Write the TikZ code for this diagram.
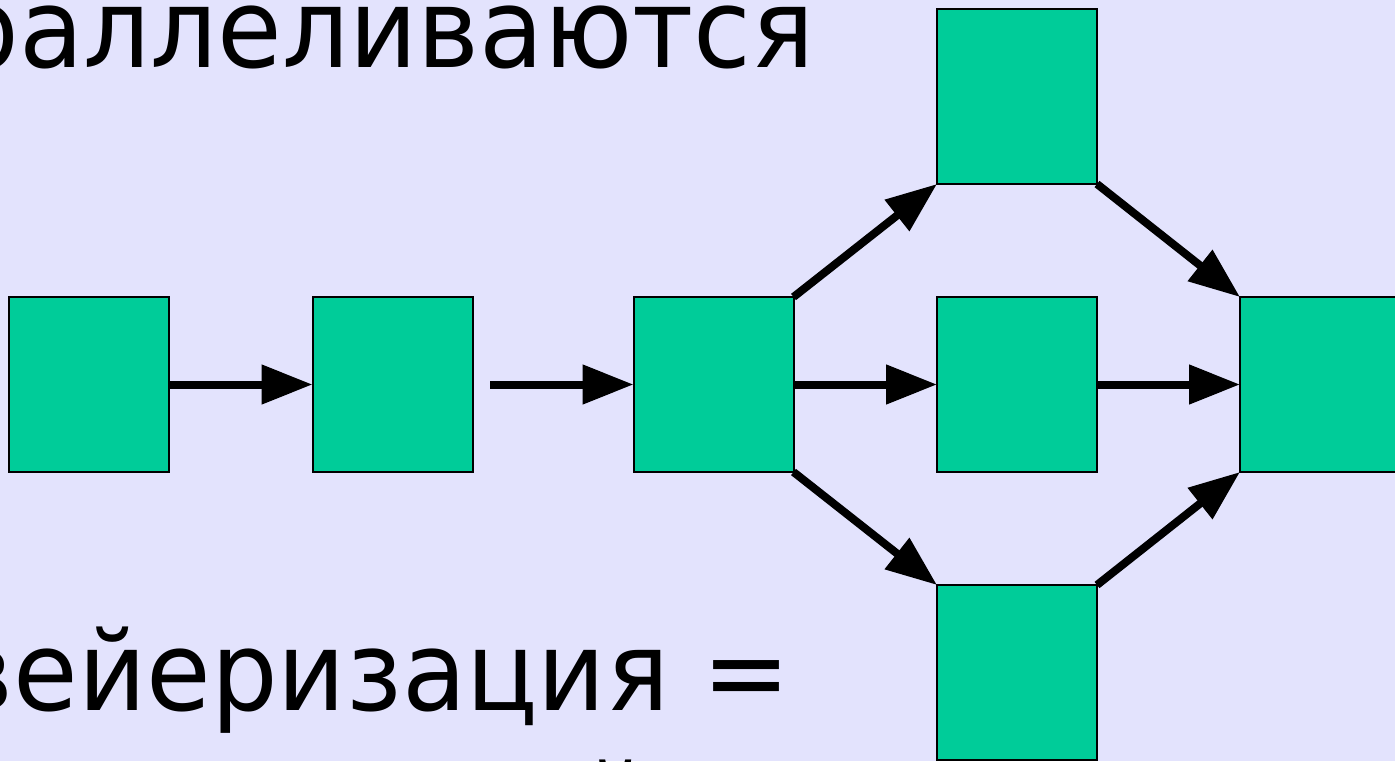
\documentclass[tikz,border=0pt]{standalone}
\usepackage{fontspec}
\setmainfont{DejaVu Sans}[FakeStretch=0.955]
\usetikzlibrary{arrows.meta}
\definecolor{bg}{HTML}{E3E3FD}
\definecolor{boxfill}{HTML}{00CC99}
\tikzset{
  blk/.style={draw=black, line width=2pt, fill=boxfill, minimum width=160pt, minimum height=175pt, inner sep=0pt, outer sep=0pt},
  flow/.style={line width=8pt, -{Triangle[length=51pt,width=38pt]}},
  bigtext/.style={inner sep=0pt, font=\fontsize{110}{132}\selectfont}
}
\begin{document}
\begin{tikzpicture}[x=1pt,y=-1pt]
\useasboundingbox (0,0) rectangle (1395,761);
\clip (0,0) rectangle (1395,761);
\fill[bg] (0,0) rectangle (1395,761);
\node[bigtext, anchor=base east] (t1) at (815,67) {раллеливаются};
\node[bigtext, anchor=base east] (t2) at (791,710) {вейеризация =};
\node[bigtext, anchor=base west] (t3) at (581,843) {й};
\node[blk] (b1) at (88.5,384.5) {};
\node[blk] (b2) at (392.5,384.5) {};
\node[blk] (b3) at (713.5,384.5) {};
\node[blk] (top) at (1017,96.5) {};
\node[blk] (mid) at (1017,384.5) {};
\node[blk] (bot) at (1017,672.5) {};
\node[blk] (rt) at (1320,384.5) {};
\coordinate (s2) at (490,384.5);
\draw[flow] (b1.east) -- (b2.west);
\draw[flow] (s2) -- (b3.west);
\draw[flow] (b3.east) -- (mid.west);
\draw[flow] (mid.east) -- (rt.west);
\draw[flow] (b3.north east) -- (top.south west);
\draw[flow] (top.south east) -- (rt.north west);
\draw[flow] (b3.south east) -- (bot.north west);
\draw[flow] (bot.north east) -- (rt.south west);
\end{tikzpicture}
\end{document}
